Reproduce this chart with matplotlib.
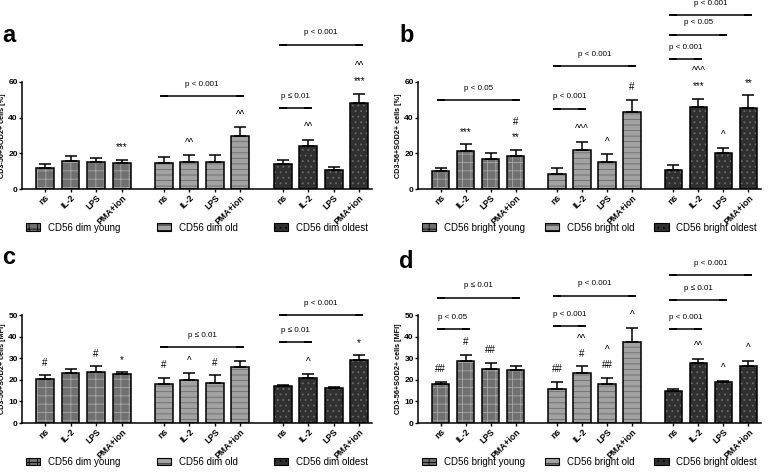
import numpy as np
import matplotlib.pyplot as plt
from matplotlib.patches import Patch

plt.rcParams['font.family'] = ['Liberation Sans', 'DejaVu Sans']
plt.rcParams['hatch.linewidth'] = 0.6

stims = ['ns', 'IL-2', 'LPS', 'PMA+ion']
ages = ['young', 'old', 'oldest']

# panel a: % SOD2+ in CD56 dim
a_mean = [[12, 15.5, 15, 14.5], [14.5, 15, 15, 29.5], [14, 24, 10.5, 48.5]]
a_top = [[14, 18.5, 17.5, 16.5], [18, 19, 19, 34.5], [16.5, 27.5, 12.5, 53.5]]
# panel b: % SOD2+ in CD56 bright
b_mean = [[10, 21.5, 17, 18.5], [8.5, 22, 15, 43], [10.5, 46, 20, 45.5]]
b_top = [[12, 25, 20, 22], [11.5, 26.5, 19.5, 50], [13.5, 50.5, 23, 52.5]]
# panel c: MFI in CD56 dim
c_mean = [[20.5, 23, 23.5, 22.5], [18.2, 20, 18.7, 26], [17, 21, 16, 29.3]]
c_top = [[22.2, 25.2, 26.2, 23.5], [21, 23, 22, 28.5], [17.8, 22.5, 16.6, 31.3]]
# panel d: MFI in CD56 bright
d_mean = [[18, 28.7, 24.8, 24.5], [15.7, 23, 18, 37.5], [14.8, 27.7, 18.8, 26.5]]
d_top = [[19.2, 31.7, 28, 26.6], [19, 26.2, 21, 44], [15.6, 29.7, 19.6, 28.8]]

# significance marks: (group, bar, [labels bottom->top])
a_marks = [(0, 3, ['***']), (1, 1, ['^^']), (1, 3, ['^^']), (2, 1, ['^^']), (2, 3, ['***', '^^'])]
b_marks = [(0, 1, ['***']), (0, 3, ['**', '#']), (1, 1, ['^^^']), (1, 2, ['^']), (1, 3, ['#']),
           (2, 1, ['***', '^^^']), (2, 2, ['^']), (2, 3, ['**'])]
c_marks = [(0, 0, ['#']), (0, 2, ['#']), (0, 3, ['*']), (1, 0, ['#']), (1, 1, ['^']), (1, 2, ['#']),
           (2, 1, ['^']), (2, 3, ['*'])]
d_marks = [(0, 0, ['##']), (0, 1, ['#']), (0, 2, ['##']), (1, 0, ['##']), (1, 1, ['#', '^^']),
           (1, 2, ['##', '^']), (1, 3, ['^']), (2, 1, ['^^']), (2, 2, ['^']), (2, 3, ['^'])]

# brackets: (group, from bar, to bar, level, label)
a_brk = [(1, 0, 3, 52, 'p < 0.001'), (2, 0, 1, 45.5, 'p ≤ 0.01'), (2, 0, 3, 81, 'p < 0.001')]
b_brk = [(0, 0, 3, 50, 'p < 0.05'), (1, 0, 1, 45, 'p < 0.001'), (1, 0, 3, 69, 'p < 0.001'),
         (2, 0, 1, 73, 'p < 0.001'), (2, 0, 2, 86.5, 'p < 0.05'), (2, 0, 3, 97.5, 'p < 0.001')]
c_brk = [(1, 0, 3, 35.2, 'p ≤ 0.01'), (2, 0, 1, 37.3, 'p ≤ 0.01'), (2, 0, 3, 50, 'p < 0.001')]
d_brk = [(0, 0, 1, 43.5, 'p < 0.05'), (0, 0, 3, 58, 'p ≤ 0.01'), (1, 0, 1, 44.7, 'p < 0.001'),
         (1, 0, 3, 59, 'p < 0.001'), (2, 0, 1, 43.3, 'p < 0.001'), (2, 0, 2, 56.8, 'p ≤ 0.01'),
         (2, 0, 3, 68.5, 'p < 0.001')]

styles = [dict(fc='#707070', hc='#a8a8a8', hatch='++'),
          dict(fc='#a2a2a2', hc='#6a6a6a', hatch='---'),
          dict(fc='#303030', hc='#6a6a6a', hatch='...')]

gap = 1.65
pos = [np.arange(4) + g * (3 + gap) for g in range(3)]
width = 0.7


def draw_panel(ax, means, tops, marks, brks, ylim, yticks, ylabel, cell, axw):
    for g in range(3):
        st = styles[g]
        m = np.array(means[g])
        t = np.array(tops[g])
        ax.bar(pos[g], m, width, color=st['fc'], edgecolor=st['hc'], hatch=st['hatch'], lw=0, zorder=2)
        ax.bar(pos[g], m, width, fill=False, edgecolor='black', lw=1.1, zorder=3)
        ax.errorbar(pos[g], m, yerr=[np.zeros(4), t - m], fmt='none', ecolor='black',
                    elinewidth=1.1, capsize=4, capthick=1.1, zorder=4)
    for g, b, labs in marks:
        for k, lab in enumerate(labs):
            ax.annotate(lab, xy=(pos[g][b], tops[g][b]), xytext=(0, 9 + k * 11),
                        textcoords='offset points', ha='center', va='center',
                        fontsize=7, annotation_clip=False)
    for g, i, j, lev, lab in brks:
        x0, x1 = pos[g][i], pos[g][j]
        ax.plot([x0, x1], [lev, lev], color='black', lw=1.1, clip_on=False)
        ax.errorbar([x0, x1], [lev, lev], yerr=0, fmt='none', ecolor='black', capsize=3,
                    capthick=1.1, clip_on=False)
        ax.annotate(lab, xy=((x0 + x1) / 2, lev), xytext=(0, 8.5), textcoords='offset points',
                    ha='center', va='center', fontsize=5.8, annotation_clip=False)
    ax.set_xlim(-0.9, pos[2][-1] + 0.5)
    ax.set_ylim(*ylim)
    ax.set_yticks(yticks)
    ax.set_xticks(np.concatenate(pos))
    ax.set_xticklabels(stims * 3, rotation=45, ha='right', rotation_mode='anchor',
                       fontsize=6.2, fontweight='bold')
    for lb in ax.get_yticklabels():
        lb.set_fontweight('bold')
        lb.set_fontsize(6)
    ax.tick_params(length=2, width=1, pad=1)
    ax.set_ylabel(ylabel, fontsize=5.2, fontweight='bold')
    ax.yaxis.set_label_coords(-15.5 / axw, 0.5)
    for s in ('top', 'right'):
        ax.spines[s].set_visible(False)
    for s in ('left', 'bottom'):
        ax.spines[s].set_linewidth(1.1)
    handles = [Patch(facecolor=st['fc'], edgecolor='black', hatch=st['hatch'], lw=0.8) for st in styles]
    labels = ['CD56 %s %s' % (cell, a) for a in ages]
    ax.legend(handles, labels, ncol=3, mode='expand', loc='center',
              bbox_to_anchor=(0.0, -0.36, 1.0, 0.0), frameon=False, fontsize=7,
              handlelength=1.5, handleheight=0.8, handletextpad=0.8, borderaxespad=0)


fig = plt.figure(figsize=(7.78, 4.76), dpi=100)
W, H = 778, 476
ax_a = fig.add_axes([22 / W, (H - 189) / H, 350 / W, 107 / H])
ax_b = fig.add_axes([418 / W, (H - 189) / H, 343 / W, 107 / H])
ax_c = fig.add_axes([22 / W, (H - 423) / H, 350 / W, 108 / H])
ax_d = fig.add_axes([418 / W, (H - 423) / H, 343 / W, 108 / H])

draw_panel(ax_a, a_mean, a_top, a_marks, a_brk, (0, 60), [0, 20, 40, 60], 'CD3-56+SOD2+ cells [%]', 'dim', 350)
draw_panel(ax_b, b_mean, b_top, b_marks, b_brk, (0, 60), [0, 20, 40, 60], 'CD3-56+SOD2+ cells [%]', 'bright', 343)
draw_panel(ax_c, c_mean, c_top, c_marks, c_brk, (0, 50), [0, 10, 20, 30, 40, 50], 'CD3-56+SOD2+ cells [MFI]', 'dim', 350)
draw_panel(ax_d, d_mean, d_top, d_marks, d_brk, (0, 50), [0, 10, 20, 30, 40, 50], 'CD3-56+SOD2+ cells [MFI]', 'bright', 343)

for lab, x, y in [('a', 2, 35), ('b', 399, 35), ('c', 2, 258), ('d', 399, 261)]:
    fig.text(x / W, 1 - y / H, lab, fontsize=17, fontweight='bold', va='center', ha='left')

fig.savefig('out.png', dpi=100)
